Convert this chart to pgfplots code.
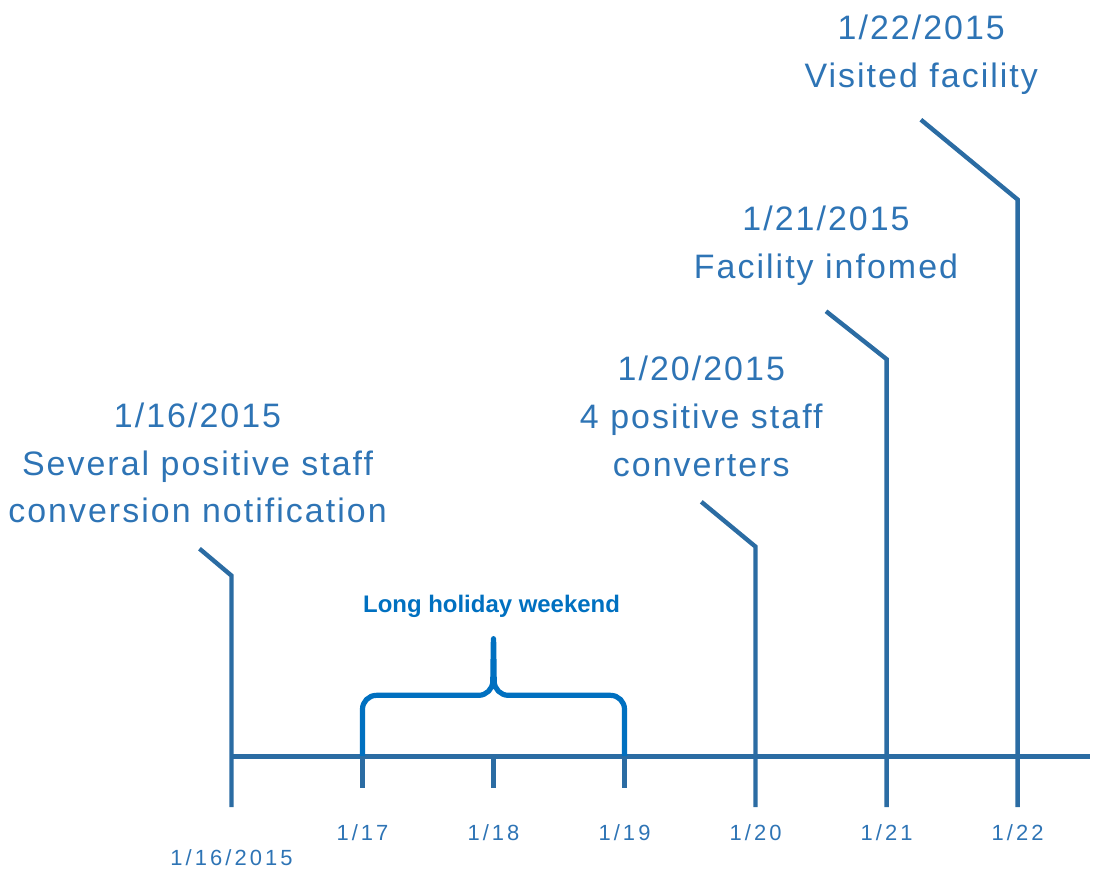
\documentclass[border=0pt]{standalone}
\usepackage{pgfplots}
\pgfplotsset{compat=1.18}
\usepackage{fontspec}
\setmainfont{Liberation Sans}
\newfontfamily\evfont[LetterSpace=6]{Liberation Sans}
\newfontfamily\tkfont[LetterSpace=14]{Liberation Sans}
\definecolor{stem}{HTML}{2B6CA3}
\definecolor{txt}{HTML}{2E74B5}
\definecolor{brk}{HTML}{0070C0}
\tikzset{
  evl/.style={font=\evfont\fontsize{17}{24}\selectfont, text=txt, align=center, anchor=center},
  tkl/.style={font=\tkfont\fontsize{11}{13}\selectfont, text=txt, anchor=center},
}
\begin{document}
\begin{tikzpicture}
\begin{axis}[
  scale only axis, width=546.5pt, height=441pt,
  xmin=-1.7666, xmax=6.556, ymin=-124, ymax=758,
  hide axis, clip=false,
]
% invisible frame for the bounding box
\addplot[draw=none] coordinates {(-1.7666,-124) (6.556,758)};
% timeline axis
\addplot[stem, line width=2.6pt] coordinates {(0,0) (6.556,0)};
% minor day ticks
\addplot[stem, line width=2.2pt] coordinates {(1,0) (1,-32)};
\addplot[stem, line width=2.2pt] coordinates {(2,0) (2,-32)};
\addplot[stem, line width=2.2pt] coordinates {(3,0) (3,-32)};
% event stems
\addplot[stem, line width=2.2pt] coordinates {(0,-51) (0,181) (-0.244,208)};
\addplot[stem, line width=2.2pt] coordinates {(4,-51) (4,210) (3.586,255)};
\addplot[stem, line width=2.2pt] coordinates {(5,-51) (5,398) (4.538,446)};
\addplot[stem, line width=2.2pt] coordinates {(6,-51) (6,558) (5.262,638)};
% bracket
\addplot[brk, line width=2.6pt, rounded corners=7pt, line join=round] coordinates {
 (1,0) (1,61) (1.993,61) (2,126)
 (2.007,61) (3,61) (3,0)};
% labels
\node[evl] at (axis cs:-0.259,294) {1/16/2015\\Several positive staff\\conversion notification};
\node[evl] at (axis cs:3.586,341) {1/20/2015\\4 positive staff\\converters};
\node[evl] at (axis cs:4.538,512) {1/21/2015\\Facility infomed};
\node[evl] at (axis cs:5.265,703) {1/22/2015\\Visited facility};
\node[font=\bfseries\fontsize{12}{14}\selectfont, text=brk] at (axis cs:1.985,150) {Long holiday weekend};
% tick labels
\node[tkl] at (axis cs:0,-102) {1/16/2015};
\node[tkl] at (axis cs:1,-77) {1/17};
\node[tkl] at (axis cs:2,-77) {1/18};
\node[tkl] at (axis cs:3,-77) {1/19};
\node[tkl] at (axis cs:4,-77) {1/20};
\node[tkl] at (axis cs:5,-77) {1/21};
\node[tkl] at (axis cs:6,-77) {1/22};
\end{axis}
\end{tikzpicture}
\end{document}
